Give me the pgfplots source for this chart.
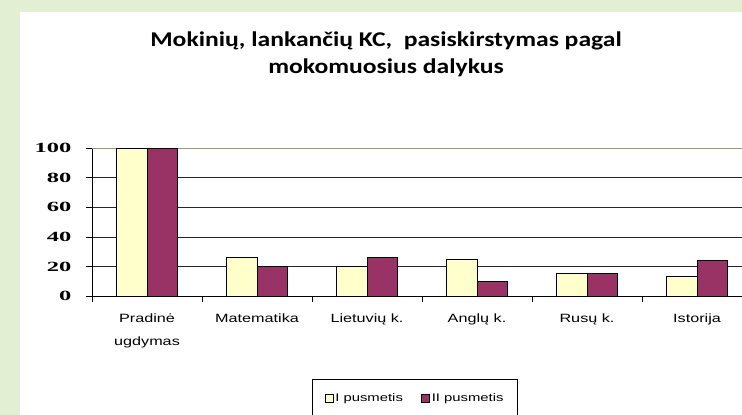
\documentclass[border=0pt]{standalone}
\usepackage{pgfplots}
\pgfplotsset{compat=1.18}
\usepackage{graphicx}
\usepackage{fontspec}
\setmainfont{Carlito}
\newfontfamily\lab{Liberation Sans}
\newfontfamily\numf{Liberation Serif}
\definecolor{bgg}{HTML}{E2EFD3}
\definecolor{yel}{HTML}{FFFFCC}
\definecolor{pur}{HTML}{993366}
\definecolor{topgrid}{HTML}{9A9A70}
\newcommand{\sx}[1]{\scalebox{1.35}[1]{#1}}
\newcommand{\st}[1]{\scalebox{1.22}[1]{#1}}
\pgfplotsset{sqlegend/.style={legend image code/.code={\draw[##1] (0pt,-4pt) rectangle (8pt,4pt);}}}
\begin{document}
\begin{tikzpicture}[x=1pt,y=1pt]
\path[use as bounding box] (0,0) rectangle (742,415);
\clip (0,0) rectangle (742,415);
\fill[bgg] (0,0) rectangle (742,415);
\fill[white] (20,0) rectangle (742,403);
\node[font=\fontsize{21}{27}\selectfont\bfseries, anchor=base] at (386,368) {\st{Mokinių, lankančių KC,\ \ pasiskirstymas pagal}};
\node[font=\fontsize{21}{27}\selectfont\bfseries, anchor=base] at (386,341) {\st{mokomuosius dalykus}};
\begin{axis}[
  at={(92pt,119pt)}, anchor=south west,
  scale only axis, width=650pt, height=147.7pt,
  xmin=-0.5, xmax=5.409, ymin=0, ymax=100,
  axis x line*=bottom, axis y line*=left,
  axis line style={black, line width=0.8pt, -},
  ybar=0pt, bar width=30.5pt,
  xtick={0,...,5},
  xticklabels={{\sx{Pradinė}\\\sx{ugdymas}},\sx{Matematika},\sx{Lietuvių k.},\sx{Anglų k.},\sx{Rusų k.},\sx{Istorija}},
  x tick label style={font=\lab\fontsize{12}{23}\selectfont, align=center, anchor=north, yshift=-8pt},
  major x tick style={draw=none},
  minor xtick={-0.5,0.5,1.5,2.5,3.5,4.5},
  tick align=outside, major tick length=6pt, minor tick length=6pt,
  tick style={black, line width=0.8pt},
  ytick={0,20,40,60,80}, extra y ticks={100},
  ymajorgrids, grid style={black!85, line width=0.8pt},
  extra y tick style={grid style={topgrid, line width=0.8pt}},
  /pgf/number format/assume math mode=true,
  y tick label style={font=\numf\bfseries\fontsize{14}{14}\selectfont, xshift=-11pt},
  yticklabel={\scalebox{1.75}[1]{\pgfmathprintnumber{\tick}}},
  legend style={at={(0.497,-0.561)}, anchor=north, legend columns=2, draw=black, line width=0.8pt,
    font=\lab\fontsize{11}{11}\selectfont, inner ysep=12pt, inner xsep=12pt},
  legend cell align=left,
  /tikz/every even column/.append style={column sep=16pt},
]
\addplot[fill=yel, draw=black, line width=0.8pt, sqlegend]
  coordinates {(0,100) (1,26) (2,20) (3,25) (4,15) (5,13)};
\addlegendentry{\sx{I pusmetis}}
\addplot[fill=pur, draw=black, line width=0.8pt, sqlegend]
  coordinates {(0,100) (1,20) (2,26) (3,10) (4,15) (5,24)};
\addlegendentry{\sx{II pusmetis}}
\end{axis}
\end{tikzpicture}
\end{document}
